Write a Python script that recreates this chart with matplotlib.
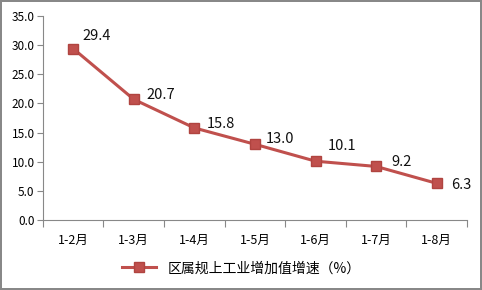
import numpy as np
import matplotlib.pyplot as plt

plt.rcParams['font.family'] = ['Noto Sans CJK SC', 'DejaVu Sans']

months = ['1-2月', '1-3月', '1-4月', '1-5月', '1-6月', '1-7月', '1-8月']
growth = [29.4, 20.7, 15.8, 13.0, 10.1, 9.2, 6.3]
series_name = '区属规上工业增加值增速（%）'

color = '#C0504D'
fig = plt.figure(figsize=(4.82, 2.9), dpi=100)
fig.patch.set_edgecolor('#888888')
fig.patch.set_linewidth(1.5)
ax = fig.add_axes([0.089, 0.241, 0.880, 0.704])

x = np.arange(len(months))
ax.plot(x, growth, color=color, lw=2.2, marker='s', markersize=7,
        markerfacecolor=color, markeredgecolor='#B04440', label=series_name)

# label offsets in points
offsets = [(7, 4), (9, -2), (9, -2), (8, -1), (9, 6), (11, -2), (10, -6)]
for xi, v, off in zip(x, growth, offsets):
    ax.annotate(f'{v:.1f}', (xi, v), xytext=off, textcoords='offset points',
                fontsize=10.5, color='#111111', va='bottom', ha='left')

ax.set_xlim(-0.5, len(months) - 0.5)
ax.set_ylim(0, 35)
ax.set_yticks(np.arange(0, 35.1, 5))
ax.set_yticklabels([f'{v:.1f}' for v in np.arange(0, 35.1, 5)])

ax.set_xticks(np.arange(-0.5, len(months), 1))
ax.set_xticklabels([])
ax.set_xticks(x, minor=True)
ax.set_xticklabels(months, minor=True)
ax.tick_params(axis='x', which='minor', length=0, pad=10, labelsize=9)
ax.tick_params(axis='x', which='major', length=5, color='#888888')
ax.tick_params(axis='y', length=4, color='#888888', labelsize=8.5, pad=2)

for s in ['top', 'right']:
    ax.spines[s].set_visible(False)
for s in ['left', 'bottom']:
    ax.spines[s].set_color('#888888')

fig.legend(loc='center', bbox_to_anchor=(0.5, 0.075), frameon=False,
           fontsize=10, handlelength=2.5)

fig.savefig('out.png', dpi=100, edgecolor=fig.get_edgecolor())
